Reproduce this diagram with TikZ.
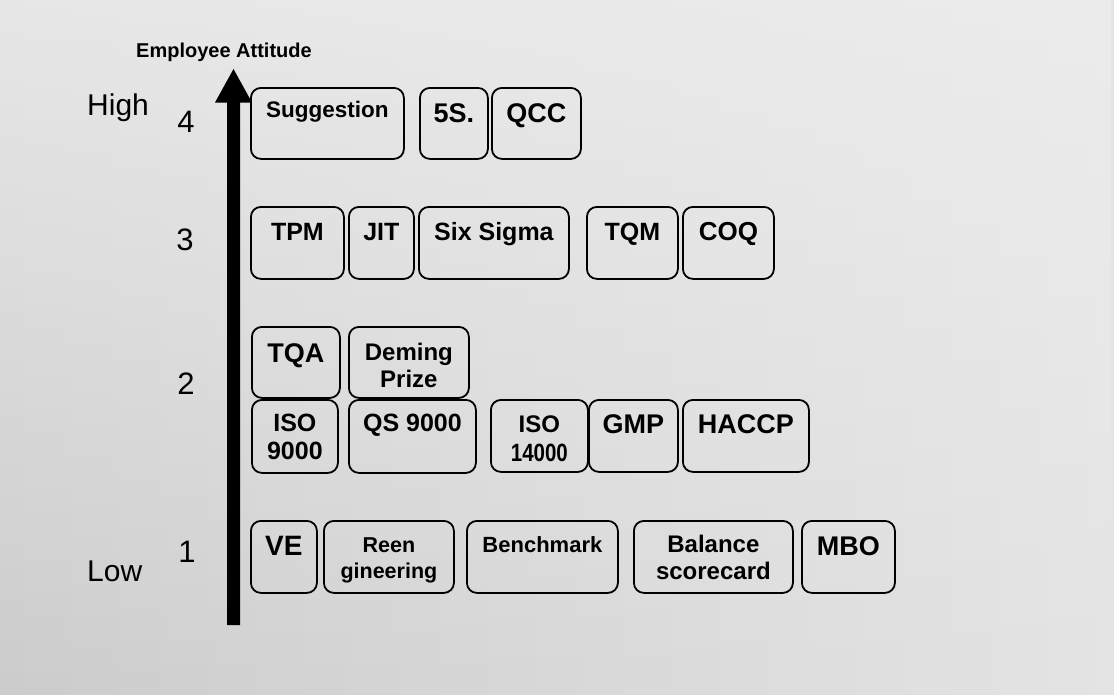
\documentclass[tikz,border=0pt]{standalone}
\usepackage{fontspec}
\setmainfont{Liberation Sans}
\usetikzlibrary{fadings}
\definecolor{paperL}{RGB}{204,204,204}
\definecolor{paperR}{RGB}{228,228,228}
\definecolor{paperTop}{RGB}{238,238,238}
\tikzset{
  stagebox/.style={draw=black, line width=1.8pt, rounded corners=10pt,
    anchor=north west, inner sep=0pt},
  tag/.style={anchor=base, inner sep=0pt, text=black},
  axislabel/.style={inner sep=0pt, text=black},
}
% box from (x1,y1) to (x2,y2), coordinates in px, y downwards
\newcommand\stage[5]{%
  \node[stagebox, minimum width={#4-#2}, minimum height={#5-#3}] (#1) at (#2,#3) {};}
% bold text line centred over a box: name, box, baseline, size, text
\newcommand\stagetext[5]{%
  \node[tag, font=\bfseries\fontsize{#4}{#4}\selectfont] (#1) at (#2.north |- 0,#3) {#5};}
\begin{document}
\begin{tikzpicture}[x=1pt, y=-1pt]
  % paper
  \shade[left color=paperL, right color=paperR] (0,0) rectangle (1114,694);
  \fill[paperTop, path fading=south, opacity=0.8] (0,0) rectangle (1114,694);
  \useasboundingbox (0,0) rectangle (1114,694);

  % vertical axis arrow
  \fill[black] (227,625) -- (227,102.5) -- (215,102.5) -- (233.5,69)
    -- (252,102.5) -- (240,102.5) -- (240,625) -- cycle;

  % axis labels
  \node[axislabel, anchor=base west, font=\bfseries\fontsize{20}{20}\selectfont]
    (title) at (136,57) {Employee Attitude};
  \node[axislabel, anchor=base west, font=\fontsize{30}{30}\selectfont] (high) at (87,115) {High};
  \node[axislabel, anchor=base west, font=\fontsize{30}{30}\selectfont] (low) at (87,581) {Low};
  \node[axislabel, anchor=base, font=\fontsize{31}{31}\selectfont] (l4) at (186,132) {4};
  \node[axislabel, anchor=base, font=\fontsize{31}{31}\selectfont] (l3) at (185,250) {3};
  \node[axislabel, anchor=base, font=\fontsize{31}{31}\selectfont] (l2) at (186,394.5) {2};
  \node[axislabel, anchor=base, font=\fontsize{31}{31}\selectfont] (l1) at (187,562) {1};

  % level 4
  \stage{sug}{250}{87}{403}{158}
  \stage{fives}{419}{87}{487}{158}
  \stage{qcc}{491}{87}{580}{158}
  \stagetext{sugT}{sug}{117}{22.5}{Suggestion}
  \stagetext{fivesT}{fives}{122}{27}{5S.}
  \stagetext{qccT}{qcc}{122}{27}{QCC}

  % level 3
  \stage{tpm}{250}{206}{343}{278}
  \stage{jit}{348}{206}{413}{278}
  \stage{six}{418}{206}{568}{278}
  \stage{tqm}{586}{206}{677}{278}
  \stage{coq}{682}{206}{773}{278}
  \stagetext{tpmT}{tpm}{240}{25}{TPM}
  \stagetext{jitT}{jit}{240}{25}{JIT}
  \stagetext{sixT}{six}{240}{25}{Six Sigma}
  \stagetext{tqmT}{tqm}{240}{25}{TQM}
  \stagetext{coqT}{coq}{240}{26}{COQ}

  % level 2, upper row
  \stage{tqa}{251}{326}{339}{397}
  \stage{dem}{348}{326}{468}{397}
  \stagetext{tqaT}{tqa}{362}{27}{TQA}
  \stagetext{demT}{dem}{360}{24}{Deming}
  \stagetext{demTb}{dem}{387}{24}{Prize}

  % level 2, lower row
  \stage{isonine}{251}{399}{337}{472}
  \stage{qs}{348}{399}{475}{472}
  \stage{isofourteen}{490}{399}{587}{471}
  \stage{gmp}{588}{399}{677}{471}
  \stage{haccp}{682}{399}{808}{471}
  \stagetext{isonineT}{isonine}{431}{25}{ISO}
  \stagetext{isonineTb}{isonine}{459}{25}{9000}
  \stagetext{qsT}{qs}{431}{25}{QS 9000}
  \stagetext{isofourteenT}{isofourteen}{432}{24}{ISO}
  \stagetext{isofourteenTb}{isofourteen}{461}{25}{\scalebox{0.82}[1]{14000}}
  \stagetext{gmpT}{gmp}{433}{27}{GMP}
  \stagetext{haccpT}{haccp}{433}{27}{HACCP}

  % level 1
  \stage{ve}{250}{520}{316}{592}
  \stage{reen}{323}{520}{453}{592}
  \stage{bench}{466}{520}{617}{592}
  \stage{bal}{633}{520}{792}{592}
  \stage{mbo}{801}{520}{894}{592}
  \stagetext{veT}{ve}{555}{28}{VE}
  \stagetext{reenT}{reen}{552}{21.5}{Reen}
  \stagetext{reenTb}{reen}{578}{21.5}{gineering}
  \stagetext{benchT}{bench}{552}{22}{Benchmark}
  \stagetext{balT}{bal}{552}{24}{Balance}
  \stagetext{balTb}{bal}{579}{24}{scorecard}
  \stagetext{mboT}{mbo}{555}{27}{MBO}
\end{tikzpicture}
\end{document}
